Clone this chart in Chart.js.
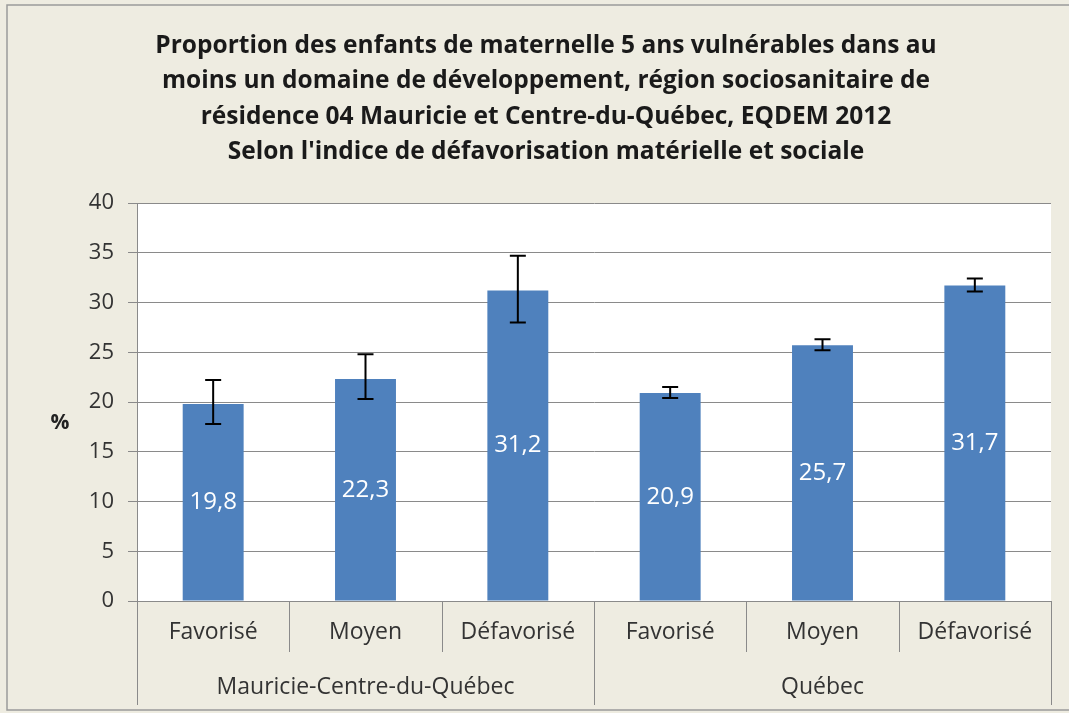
<!DOCTYPE html>
<html lang="fr">
<head>
<meta charset="utf-8">
<title>Enfants vulnérables - EQDEM 2012</title>
<script src="https://cdn.jsdelivr.net/npm/chart.js@4.4.1/dist/chart.umd.min.js"></script>
<style>
  html, body { margin: 0; padding: 0; background: #eeece1; }
  #wrap { width: 1069px; height: 713px; }
</style>
</head>
<body>
<div id="wrap"><canvas id="chart" width="1069" height="713"></canvas></div>
<script>
// Data
const titleLines = [
  'Proportion des enfants de maternelle 5 ans vulnérables dans au',
  'moins un domaine de développement, région sociosanitaire de',
  'résidence 04 Mauricie et Centre-du-Québec, EQDEM 2012',
  "Selon l'indice de défavorisation matérielle et sociale"
];
const categories = ['Favorisé', 'Moyen', 'Défavorisé', 'Favorisé', 'Moyen', 'Défavorisé'];
const groups = ['Mauricie-Centre-du-Québec', 'Québec'];
const groupSize = 3;
const values = [19.8, 22.3, 31.2, 20.9, 25.7, 31.7];
const errLow = [17.8, 20.3, 28.0, 20.4, 25.2, 31.1];
const errHigh = [22.2, 24.8, 34.7, 21.5, 26.3, 32.4];
const yTicks = [0, 5, 10, 15, 20, 25, 30, 35, 40];

const FONT = 'Open Sans';
const GRID = '#8a8a8a';
const TEXT = '#333333';

// Backgrounds, title, error bars, labels and the two-level x axis
const decor = {
  id: 'decor',
  beforeDraw(chart) {
    const { ctx, chartArea: a } = chart;
    ctx.save();
    ctx.fillStyle = '#eeece1';
    ctx.fillRect(0, 0, chart.width, chart.height);
    ctx.strokeStyle = '#9a9a9a';
    ctx.lineWidth = 1.5;
    ctx.strokeRect(7, 5, chart.width + 20, chart.height - 8);
    ctx.fillStyle = '#ffffff';
    ctx.fillRect(a.left, a.top, a.right - a.left, a.bottom - a.top);
    // title (centred on the chart frame, not the canvas)
    ctx.fillStyle = '#1a1a1a';
    ctx.font = 'bold 24.5px "' + FONT + '"';
    ctx.textAlign = 'center';
    ctx.textBaseline = 'middle';
    titleLines.forEach((line, i) => ctx.fillText(line, 546, 46 + i * 35.3));
    ctx.restore();
  },
  afterDatasetsDraw(chart) {
    const { ctx } = chart;
    const y = chart.scales.y;
    const bars = chart.getDatasetMeta(0).data;
    ctx.save();
    // error bars
    ctx.strokeStyle = '#000000';
    ctx.lineWidth = 2;
    bars.forEach((bar, i) => {
      const hi = y.getPixelForValue(errHigh[i]);
      const lo = y.getPixelForValue(errLow[i]);
      ctx.beginPath();
      ctx.moveTo(bar.x, hi); ctx.lineTo(bar.x, lo);
      ctx.moveTo(bar.x - 8, hi); ctx.lineTo(bar.x + 8, hi);
      ctx.moveTo(bar.x - 8, lo); ctx.lineTo(bar.x + 8, lo);
      ctx.stroke();
    });
    // value labels
    ctx.fillStyle = '#ffffff';
    ctx.font = '24px "' + FONT + '"';
    ctx.textAlign = 'center';
    ctx.textBaseline = 'middle';
    bars.forEach((bar, i) => {
      ctx.fillText(values[i].toFixed(1).replace('.', ','), bar.x, (bar.y + bar.base) / 2);
    });
    ctx.restore();
  },
  afterDraw(chart) {
    const { ctx, chartArea: a } = chart;
    const x = chart.scales.x;
    const n = categories.length;
    const edge = i => (x.getPixelForValue(i - 1) + x.getPixelForValue(i)) / 2;
    ctx.save();
    ctx.strokeStyle = GRID;
    ctx.lineWidth = 1;
    for (let i = 0; i <= n; i++) {
      let px = i === 0 ? a.left : i === n ? a.right : edge(i);
      px = Math.round(px) + 0.5;
      const full = i % groupSize === 0;
      ctx.beginPath();
      ctx.moveTo(px, a.bottom);
      ctx.lineTo(px, full ? 705 : 652);
      ctx.stroke();
    }
    // group labels
    ctx.fillStyle = TEXT;
    ctx.font = '23px "' + FONT + '"';
    ctx.textAlign = 'center';
    ctx.textBaseline = 'middle';
    groups.forEach((g, k) => {
      const first = x.getPixelForValue(k * groupSize);
      const last = x.getPixelForValue(k * groupSize + groupSize - 1);
      ctx.fillText(g, (first + last) / 2, 687);
    });
    // y axis unit
    ctx.font = 'bold 21px "' + FONT + '"';
    ctx.fillStyle = '#222222';
    ctx.fillText('%', 60, 423);
    ctx.restore();
  }
};

new Chart(document.getElementById('chart'), {
  type: 'bar',
  data: {
    labels: categories,
    datasets: [{
      data: values,
      backgroundColor: '#4f81bd',
      borderWidth: 0,
      categoryPercentage: 1,
      barPercentage: 0.4
    }]
  },
  options: {
    responsive: false,
    animation: false,
    devicePixelRatio: 1,
    layout: { padding: { left: 0, right: 18, top: 203, bottom: 0 } },
    plugins: {
      legend: { display: false },
      tooltip: { enabled: false },
      title: { display: false }
    },
    scales: {
      x: {
        grid: { display: false, drawTicks: false, tickLength: 0 },
        border: { display: true, color: GRID },
        ticks: { color: TEXT, font: { family: FONT, size: 23 }, padding: 18, maxRotation: 0, autoSkip: false },
        afterFit(scale) { scale.height = 112; }
      },
      y: {
        min: 0,
        max: 40,
        afterBuildTicks(scale) { scale.ticks = yTicks.map(v => ({ value: v })); },
        grid: { color: GRID, tickLength: 9 },
        border: { color: GRID },
        ticks: { color: TEXT, font: { family: FONT, size: 22 }, padding: 14 },
        afterFit(scale) { scale.width = 137; }
      }
    }
  },
  plugins: [decor]
});
</script>
</body>
</html>
